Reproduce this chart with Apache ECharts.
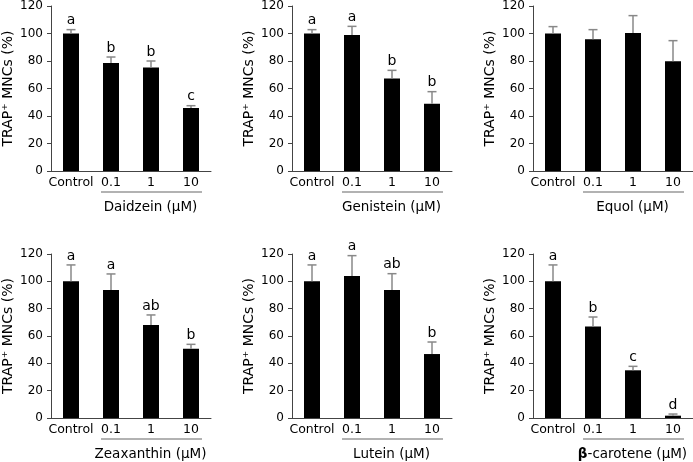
<!DOCTYPE html>
<html>
<head>
<meta charset="utf-8">
<script src="https://cdn.jsdelivr.net/npm/echarts@6/dist/echarts.min.js"></script>
<style>html,body{margin:0;padding:0;background:#fff;}#c{width:693px;height:462px;}</style>
</head>
<body>
<div id="c"></div>
<script>
const categories = ['Control', '0.1', '1', '10'];
const compounds = ['Daidzein', 'Genistein', 'Equol', 'Zeaxanthin', 'Lutein', 'β-carotene'];
const yTicks = [0, 20, 40, 60, 80, 100, 120];

const daidzeinMean = [100, 78.5, 75.2, 45.8];
const daidzeinSD = [2.8, 4.4, 4.8, 1.7];
const daidzeinLetters = ['a', 'b', 'b', 'c'];

const genisteinMean = [100, 98.9, 67.2, 49.0];
const genisteinSD = [2.8, 6.3, 6.0, 8.7];
const genisteinLetters = ['a', 'a', 'b', 'b'];

const equolMean = [100, 95.8, 100.4, 79.8];
const equolSD = [5.0, 7.0, 12.6, 15.0];
const equolLetters = ['', '', '', ''];

const zeaxanthinMean = [100, 93.7, 68.0, 50.7];
const zeaxanthinSD = [12.0, 11.7, 7.4, 3.2];
const zeaxanthinLetters = ['a', 'a', 'ab', 'b'];

const luteinMean = [100, 103.9, 93.7, 46.8];
const luteinSD = [12.0, 14.9, 11.9, 8.8];
const luteinLetters = ['a', 'a', 'ab', 'b'];

const caroteneMean = [100, 67.0, 34.9, 1.7];
const caroteneSD = [12.0, 6.9, 2.9, 1.2];
const caroteneLetters = ['a', 'b', 'c', 'd'];

const means = [daidzeinMean, genisteinMean, equolMean, zeaxanthinMean, luteinMean, caroteneMean];
const sds = [daidzeinSD, genisteinSD, equolSD, zeaxanthinSD, luteinSD, caroteneSD];
const letters = [daidzeinLetters, genisteinLetters, equolLetters, zeaxanthinLetters, luteinLetters, caroteneLetters];

const FONT = 'DejaVu Sans';
const lefts = [51, 292, 533];
const tops = [6, 254];
const heights = [165, 164];

const chart = echarts.init(document.getElementById('c'), null, {renderer: 'canvas'});

const grid = [], xAxis = [], yAxis = [], series = [];
for (let k = 0; k < 6; k++) {
  const col = k % 3, row = Math.floor(k / 3);
  grid.push({left: lefts[col], top: tops[row], width: 160, height: heights[row], containLabel: false});
  xAxis.push({
    type: 'category', gridIndex: k, data: categories,
    axisLine: {show: true, lineStyle: {color: '#444', width: 1}},
    axisTick: {show: false},
    axisLabel: {fontFamily: FONT, fontSize: 12.5, color: '#000', margin: 5, interval: 0}
  });
  yAxis.push({
    type: 'value', gridIndex: k, min: yTicks[0], max: yTicks[yTicks.length - 1], interval: 20,
    name: 'TRAP⁺ MNCs (%)', nameLocation: 'middle', nameGap: 36,
    nameTextStyle: {fontFamily: FONT, fontSize: 14, color: '#000'},
    axisLine: {show: true, lineStyle: {color: '#444', width: 1}},
    axisTick: {show: true, length: 4, lineStyle: {color: '#444'}},
    axisLabel: {fontFamily: FONT, fontSize: 12, color: '#000', margin: 8},
    splitLine: {show: false}
  });
  series.push({
    type: 'bar', xAxisIndex: k, yAxisIndex: k, data: means[k],
    barWidth: 16, itemStyle: {color: '#000'}, silent: true, animation: false
  });
  const lets = letters[k];
  series.push({
    type: 'custom', xAxisIndex: k, yAxisIndex: k, animation: false, silent: true, z: 3,
    data: means[k].map((m, i) => [i, m, m + sds[k][i]]),
    renderItem: function (params, api) {
      const b = api.coord([api.value(0), api.value(1)]);
      const t = api.coord([api.value(0), api.value(2)]);
      const children = [
        {type: 'line', shape: {x1: b[0], y1: b[1], x2: b[0], y2: t[1]}, style: {stroke: '#888', lineWidth: 1.5}},
        {type: 'line', shape: {x1: b[0] - 4.5, y1: t[1], x2: b[0] + 4.5, y2: t[1]}, style: {stroke: '#888', lineWidth: 1.5}}
      ];
      const L = lets[params.dataIndex];
      if (L) {
        children.push({type: 'text', x: b[0], y: t[1] - 9,
          style: {text: L, fontFamily: FONT, fontSize: 14, fill: '#000', align: 'center', verticalAlign: 'middle'}});
      }
      return {type: 'group', children: children};
    }
  });
}

chart.setOption({animation: false, backgroundColor: '#fff', grid, xAxis, yAxis, series});

const graphic = [];
for (let k = 0; k < 6; k++) {
  const p1 = chart.convertToPixel({gridIndex: k}, [1, 0]);
  const p3 = chart.convertToPixel({gridIndex: k}, [3, 0]);
  const x1 = p1[0] - 10, x2 = p3[0] + 11;
  const yLine = p1[1] + 21;
  graphic.push({type: 'line', shape: {x1: x1, y1: yLine, x2: x2, y2: yLine},
    style: {stroke: '#999', lineWidth: 1.5}, silent: true});
  const name = compounds[k];
  const txt = name === 'β-carotene' ? '{b|β}-carotene (μM)' : name + ' (μM)';
  graphic.push({type: 'text', x: (x1 + x2) / 2 - 1, y: yLine + 15, silent: true,
    style: {text: txt, fontFamily: FONT, fontSize: 13.5, fill: '#000', align: 'center', verticalAlign: 'middle',
      rich: {b: {fontFamily: FONT, fontSize: 13.5, fontWeight: 'bold', fill: '#000'}}}});
}
chart.setOption({graphic: graphic});
</script>
</body>
</html>
